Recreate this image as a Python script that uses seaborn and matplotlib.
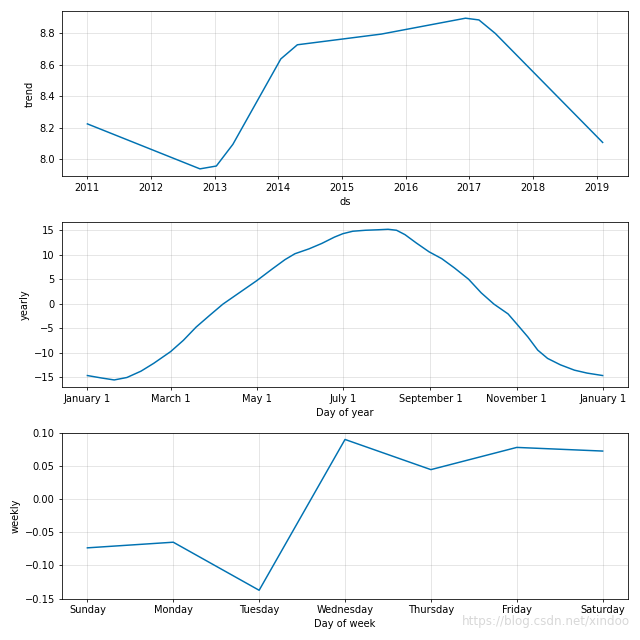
import pandas as pd
import seaborn as sns
import matplotlib.pyplot as plt
import matplotlib.dates as mdates

# trend component (changepoints)
trend_dates = ['2011-01-01', '2012-10-08', '2013-01-10', '2013-04-15', '2014-01-15',
               '2014-04-20', '2015-08-15', '2016-12-10', '2017-02-25', '2017-05-30',
               '2019-02-05']
trend_values = [8.225, 7.939, 7.957, 8.095, 8.638, 8.728, 8.796, 8.897, 8.886, 8.800, 8.107]

# yearly seasonality (day of year -> value)
year_days = [0, 10, 19, 28, 38, 47, 59, 68, 77, 87, 96, 108, 120, 131, 140, 147, 157,
             166, 175, 181, 188, 197, 206, 213, 219, 225, 233, 242, 251, 260, 270, 279,
             288, 298, 304, 312, 319, 326, 335, 345, 354, 365]
yearly_values = [-14.7, -15.2, -15.6, -15.1, -13.8, -12.2, -9.8, -7.5, -4.8, -2.3, -0.1,
                 2.3, 4.7, 7.1, 9.0, 10.2, 11.2, 12.3, 13.6, 14.3, 14.8, 15.0, 15.1,
                 15.2, 15.0, 14.1, 12.4, 10.6, 9.2, 7.3, 5.0, 2.2, -0.1, -2.1, -4.1,
                 -6.8, -9.5, -11.2, -12.5, -13.6, -14.2, -14.7]

# weekly seasonality
days = ['Sunday', 'Monday', 'Tuesday', 'Wednesday', 'Thursday', 'Friday', 'Saturday']
weekly_values = [-0.0735, -0.065, -0.1375, 0.090, 0.0445, 0.078, 0.0725]

color = '#0072B2'

trend_df = pd.DataFrame({'ds': pd.to_datetime(trend_dates), 'trend': trend_values})
yearly_df = pd.DataFrame({'ds': pd.Timestamp('2017-01-01') + pd.to_timedelta(year_days, unit='D'),
                          'yearly': yearly_values})
weekly_df = pd.DataFrame({'pos': range(len(days)), 'weekly': weekly_values})

fig, axes = plt.subplots(3, 1, figsize=(9, 9), facecolor='w')

# trend
ax = axes[0]
sns.lineplot(data=trend_df, x='ds', y='trend', color=color, ax=ax)
ax.xaxis.set_major_locator(mdates.YearLocator())
ax.xaxis.set_major_formatter(mdates.DateFormatter('%Y'))
ax.set_xlabel('ds')
ax.set_ylabel('trend')

# yearly
ax = axes[1]
sns.lineplot(data=yearly_df, x='ds', y='yearly', color=color, ax=ax)
ax.xaxis.set_major_locator(mdates.MonthLocator(bymonth=[1, 3, 5, 7, 9, 11]))
ax.xaxis.set_major_formatter(mdates.DateFormatter('%B %-d'))
ax.set_xlabel('Day of year')
ax.set_ylabel('yearly')

# weekly
ax = axes[2]
sns.lineplot(data=weekly_df, x='pos', y='weekly', color=color, ax=ax)
ax.set_xticks(range(len(days)))
ax.set_xticklabels(days)
ax.set_ylim(-0.15, 0.10)
ax.set_xlabel('Day of week')
ax.set_ylabel('weekly')

for ax in axes:
    ax.grid(True, which='major', c='gray', ls='-', lw=1, alpha=0.2)

fig.tight_layout()
fig.text(0.985, 0.018, 'https://blog.csdn.net/xindoo', color='#d8d8d8', fontsize=12,
         ha='right', va='bottom')
fig.savefig('out.png', dpi=640 / 9, facecolor='w')
